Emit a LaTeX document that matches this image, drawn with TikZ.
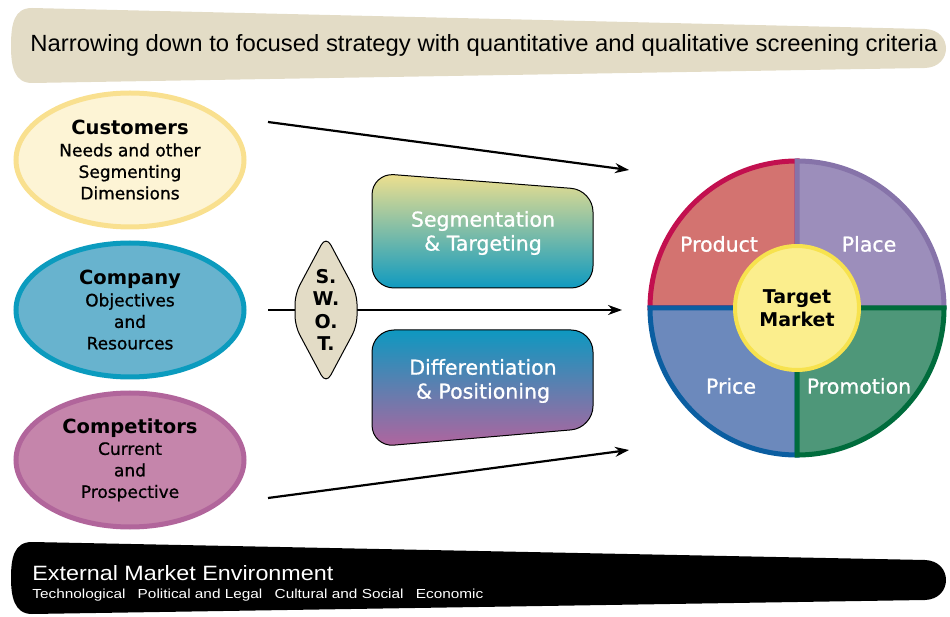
\documentclass[tikz,border=0pt]{standalone}
\usepackage{fontspec}
\setmainfont{DejaVu Sans}
\newfontfamily\bannerfont{Liberation Sans}
\newfontfamily\heavyfont{DejaVu Sans}[FakeBold=0.9]
\usetikzlibrary{shapes.geometric,arrows.meta}
\tikzset{
    every picture/.style={
        line width=0.8pt
    },
    % Style for the three input ovals
    market oval/.style={
        ellipse,
        minimum width=228pt,
        minimum height=134pt,
        line width=5pt,
        inner sep=0pt,
        align=center,
        font=\heavyfont\fontsize{17}{21.5}\selectfont
    },
    % Style for the white labels in boxes and quadrants
    white label/.style={
        text=white,
        align=center,
        font=\heavyfont\fontsize{20.5}{24}\selectfont
    },
    flow arrow/.style={
        line width=2.2pt,
        -{Stealth[length=14pt,width=10pt]}
    }
}
\newcommand{\ovaltitle}[1]{{\normalfont\fontsize{19.5}{21.5}\selectfont\bfseries #1}}
\definecolor{bannerTan}{RGB}{227,220,198}
\definecolor{custFill}{RGB}{253,244,213}
\definecolor{custLine}{RGB}{249,224,143}
\definecolor{compFill}{RGB}{104,179,206}
\definecolor{compLine}{RGB}{11,155,190}
\definecolor{rivalFill}{RGB}{197,133,171}
\definecolor{rivalLine}{RGB}{177,101,155}
\definecolor{segTop}{RGB}{240,224,142}
\definecolor{segBottom}{RGB}{15,154,192}
\definecolor{diffTop}{RGB}{14,152,192}
\definecolor{diffBottom}{RGB}{178,100,158}
\definecolor{productFill}{RGB}{211,115,112}
\definecolor{productLine}{RGB}{194,16,79}
\definecolor{placeFill}{RGB}{156,142,187}
\definecolor{placeLine}{RGB}{134,115,169}
\definecolor{priceFill}{RGB}{108,137,188}
\definecolor{priceLine}{RGB}{11,94,161}
\definecolor{promoFill}{RGB}{78,151,121}
\definecolor{promoLine}{RGB}{0,108,60}
\definecolor{targetFill}{RGB}{251,238,141}
\definecolor{targetLine}{RGB}{247,226,78}

\begin{document}
\begin{tikzpicture}[x=1pt,y=1pt]

% Set the canvas size
\path[use as bounding box] (0,0) rectangle (950,616);

% Top banner
\fill[bannerTan] (32,608) -- (925,587) .. controls (953,586) and (953,549) .. (925,548)
    -- (32,533) .. controls (14,533) and (11,550) .. (11,570)
    .. controls (11,592) and (14,608) .. (32,608) -- cycle;
\node[anchor=base west, inner sep=0pt] (narrowing) at (30,564)
    {\resizebox{907pt}{17pt}{\bannerfont Narrowing down to focused strategy with quantitative and qualitative screening criteria}};

% Bottom banner
\fill[black] (32,74) -- (925,56) .. controls (953,55) and (953,17) .. (925,16)
    -- (32,2) .. controls (14,2) and (11,20) .. (11,38)
    .. controls (11,58) and (14,74) .. (32,74) -- cycle;
\node[anchor=base west, inner sep=0pt, text=white] (environment) at (32,36)
    {\resizebox{301pt}{15pt}{\bannerfont External Market Environment}};
\node[anchor=base west, inner sep=0pt, text=white] (forces) at (32,18)
    {\resizebox{451pt}{9.5pt}{\bannerfont Technological\hspace{0.8em}Political and Legal\hspace{0.8em}Cultural and Social\hspace{0.8em}Economic}};

% Input ovals
\node[market oval, fill=custFill, draw=custLine] (customers) at (130,456)
    {\ovaltitle{Customers}\\Needs and other\\Segmenting\\Dimensions};
\node[market oval, fill=compFill, draw=compLine] (company) at (130,306)
    {\ovaltitle{Company}\\Objectives\\and\\Resources};
\node[market oval, fill=rivalFill, draw=rivalLine] (competitors) at (130,156)
    {\ovaltitle{Competitors}\\Current\\and\\Prospective};

% Arrows towards the marketing mix
\coordinate (custOut) at (268,494);
\coordinate (compOut) at (268,306);
\coordinate (rivalOut) at (268,118);
\coordinate (mixTop) at (629,446);
\coordinate (mixMid) at (622,306);
\coordinate (mixLow) at (629,166);
\draw[flow arrow] (custOut) -- (mixTop);
\draw[flow arrow] (compOut) -- (mixMid);
\draw[flow arrow] (rivalOut) -- (mixLow);

% SWOT lozenge
\filldraw[fill=bannerTan, draw=black, line width=1pt, rounded corners=10pt]
    (326,380) -- (357,322) -- (357,290) -- (326,232) -- (295,290) -- (295,322) -- cycle;
\node[align=center, font=\fontsize{19}{22.5}\selectfont\bfseries] (swot) at (326,306) {S.\\W.\\O.\\T.};

% Strategy boxes
\path[draw=black, line width=1pt, top color=segTop, bottom color=segBottom, rounded corners=22pt]
    (372,443) -- (593,426) -- (593,328) -- (372,328) -- cycle;
\node[white label] (segmentation) at (483,383) {Segmentation\\\& Targeting};

\path[draw=black, line width=1pt, top color=diffTop, bottom color=diffBottom, rounded corners=22pt]
    (372,286) -- (593,286) -- (593,188) -- (372,169) -- cycle;
\node[white label] (differentiation) at (483,235) {Differentiation\\\& Positioning};

% Marketing mix wheel
\coordinate (mixC) at (797,308);
\filldraw[fill=productFill, draw=productLine, line width=5pt]
    (mixC) -- ++(180:147) arc[start angle=180, end angle=90, radius=147] -- cycle;
\filldraw[fill=placeFill, draw=placeLine, line width=5pt]
    (mixC) -- ++(90:147) arc[start angle=90, end angle=0, radius=147] -- cycle;
\filldraw[fill=priceFill, draw=priceLine, line width=5pt]
    (mixC) -- ++(180:147) arc[start angle=180, end angle=270, radius=147] -- cycle;
\filldraw[fill=promoFill, draw=promoLine, line width=5pt]
    (mixC) -- ++(0:147) arc[start angle=0, end angle=-90, radius=147] -- cycle;

\node[white label] (product) at (719,372) {Product};
\node[white label] (place) at (869,372) {Place};
\node[white label] (price) at (731,230) {Price};
\node[white label] (promotion) at (859,230) {Promotion};

\node[circle, minimum size=124pt, inner sep=0pt, fill=targetFill, draw=targetLine, line width=4pt,
    align=center, font=\fontsize{19}{23}\selectfont\bfseries] (target) at (mixC) {Target\\Market};

\end{tikzpicture}
\end{document}
